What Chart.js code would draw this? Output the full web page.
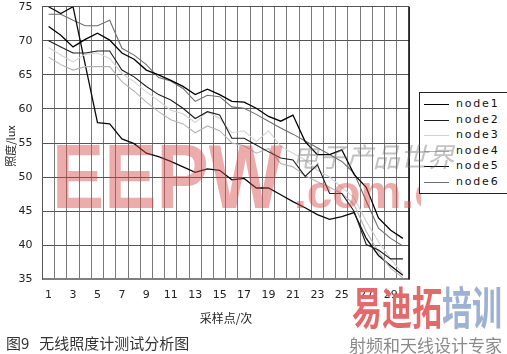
<!DOCTYPE html>
<html><head><meta charset="utf-8">
<script src="https://cdn.jsdelivr.net/npm/chart.js@4"></script>
<style>
html,body{margin:0;padding:0;background:#fff;}
#wrap{position:relative;width:507px;height:354px;overflow:hidden;background:#fff;}
#c{position:absolute;left:0;top:0;z-index:2;}
.wm{position:absolute;white-space:nowrap;z-index:4;pointer-events:none;}
.t{position:absolute;white-space:nowrap;z-index:3;}
#legend{position:absolute;left:419px;top:92px;width:100px;height:100px;border:1px solid #222;background:#fff;z-index:5;}
.row{position:absolute;left:0;height:14px;}
.row i{position:absolute;left:4px;top:7px;width:25px;height:0;border-top:1.3px solid #000;}
.row span{position:absolute;left:36px;top:0;font:11px "DejaVu Sans";letter-spacing:1.8px;color:#111;line-height:14px;}
</style></head><body>
<div id="wrap">
 <canvas id="c" width="507" height="354"></canvas>
 <div class="wm" id="eepw" style="left:52px;top:132px;font:bold 90px 'Liberation Sans';line-height:90px;color:rgba(215,70,70,0.45);transform:scaleX(0.87);transform-origin:0 0;">EEPW</div>
 <div class="wm" style="left:0;top:150px;width:421px;height:70px;overflow:hidden;"><div style="position:absolute;left:294px;top:19px;font:bold 46px 'Liberation Sans';line-height:46px;color:rgba(215,70,70,0.45);">.com.cn</div></div>
 <div id="legend"></div>
 <div class="wm" style="left:292px;top:141px;font:italic 27px 'Noto Sans CJK SC';line-height:30px;color:rgba(110,110,110,0.42);z-index:6;">电子产品世界</div>
 <div class="t" style="left:226px;top:317px;transform:translate(-50%,-50%);font:12px 'Noto Sans CJK SC';color:#222;">采样点/次</div>
 <div class="t" style="left:10px;top:146px;transform:translate(-50%,-50%) rotate(-90deg);font:11px 'Noto Sans CJK SC';color:#222;">照度/lux</div>
 <div class="t" style="left:6px;top:334px;font:15px 'Noto Sans CJK SC';line-height:18px;color:#333;">图9<span style="margin-left:10px">无线照度计测试分析图</span></div>
 <div class="t" style="left:352px;top:283px;font:bold 30px 'Noto Sans CJK SC';line-height:30px;transform:scaleY(1.5);transform-origin:0 0;"><span style="color:#e26a6a">易迪拓</span><span style="color:#9db1d2">培训</span></div>
 <div class="t" style="left:349px;top:335px;font:17px 'Noto Sans CJK SC';line-height:20px;color:#8a8a8a;">射频和天线设计专家</div>
</div>
<script>
const categories = ['1','2','3','4','5','6','7','8','9','10','11','12','13','14','15','16','17','18','19','20','21','22','23','24','25','26','27','28','29','30'];
const yTicks = [35,40,45,50,55,60,65,70,75];
const seriesNames = ['node1','node2','node3','node4','node5','node6'];
const node1 = [72.1,70.8,69.1,70.2,71.1,70.1,68.2,67.3,65.7,65.0,64.2,63.3,62.1,62.9,62.1,61.1,61.0,60.1,58.9,58.2,59.1,55.2,53.3,53.3,54.0,50.4,48.5,44.0,42.2,41.0];
const node2 = [70.0,69.1,68.2,68.2,68.5,68.5,65.7,64.7,63.3,62.1,61.3,60.1,58.6,59.6,59.1,55.7,55.7,54.7,53.7,52.8,52.5,50.1,51.8,47.6,47.6,45.0,40.1,39.3,38.0,38.0];
const node3 = [69.0,67.9,66.9,68.0,68.2,67.4,65.2,64.0,62.5,61.2,59.8,59.3,58.0,59.6,58.6,56.5,56.8,55.2,56.8,54.5,53.5,52.5,51.0,50.0,48.5,47.0,43.5,40.5,38.0,35.8];
const node4 = [67.6,66.5,65.7,66.2,66.2,66.2,64.0,62.6,61.0,59.6,58.4,57.8,56.5,57.5,56.8,55.0,54.6,53.5,54.2,52.0,51.5,50.2,49.3,48.5,47.6,46.0,42.0,39.0,36.6,35.2];
const node5 = [75.0,74.0,75.0,66.5,58.0,57.8,55.6,54.9,53.5,53.0,52.3,51.5,50.7,51.2,51.0,49.6,49.8,48.4,48.4,47.4,46.4,45.5,44.5,43.8,44.2,44.8,41.0,38.5,37.0,35.6];
const node6 = [73.9,73.9,73.0,72.2,72.2,73.0,68.9,67.9,66.5,64.6,64.1,63.0,61.1,62.0,61.8,60.3,60.1,59.2,58.2,57.2,56.3,55.3,54.3,53.3,52.3,50.6,46.5,42.5,41.0,39.9];
const seriesValues = [node1,node2,node3,node4,node5,node6];
const colors = ['#000000','#1e1e1e','#d2d2d2','#b4b4b4','#0a0a0a','#6e6e6e'];
const widths = [1.3,1.1,1.1,1.1,1.3,1.1];

const datasets = seriesNames.map((n,i)=>({
  label:n, data:seriesValues[i], borderColor:colors[i], backgroundColor:colors[i],
  borderWidth:widths[i], pointRadius:0, tension:0, fill:false
}));

const rightBorder = {
  id:'rightBorder',
  afterDraw(chart){
    const {ctx, chartArea:a} = chart;
    ctx.save();
    ctx.strokeStyle='#111'; ctx.lineWidth=1.6;
    ctx.beginPath(); ctx.moveTo(a.right, a.top); ctx.lineTo(a.right, a.bottom); ctx.stroke();
    ctx.restore();
  }
};

new Chart(document.getElementById('c'), {
  type:'line',
  data:{labels:categories, datasets},
  plugins:[rightBorder],
  options:{
    responsive:false, animation:false, devicePixelRatio:1,
    layout:{padding:{left:0,top:6.7,right:98,bottom:0}},
    plugins:{legend:{display:false}, tooltip:{enabled:false}},
    scales:{
      x:{
        type:'category', offset:true,
        grid:{offset:true, color:'#7a7a7a', lineWidth:1, drawTicks:false},
        border:{color:'#808080', width:2},
        ticks:{autoSkip:false, maxRotation:0, minRotation:0, padding:9, color:'#222',
               font:{family:'DejaVu Sans', size:11},
               callback:(v,i)=> (i%2===0 ? categories[i] : '')},
        afterFit:(s)=>{ s.height = 354-279.3; s.paddingLeft=0; s.paddingRight=0; }
      },
      y:{
        min:yTicks[0], max:yTicks[yTicks.length-1],
        afterBuildTicks:(s)=>{ s.ticks = yTicks.map(v=>({value:v})); },
        grid:{color:'#555555', lineWidth:1, drawTicks:false},
        border:{color:'#555', width:1},
        ticks:{padding:10, color:'#222', font:{family:'DejaVu Sans', size:11}},
        afterFit:(s)=>{ s.width = 42.5; s.paddingTop=0; s.paddingBottom=0; }
      }
    }
  }
});

const lg = document.getElementById('legend');
seriesNames.forEach((n,i)=>{
  const r = document.createElement('div');
  r.className='row';
  r.style.top = (4 + i*15.6) + 'px';
  r.innerHTML = '<i style="border-top-color:'+colors[i]+'"></i><span>'+n+'</span>';
  lg.appendChild(r);
});
</script>
</body></html>
